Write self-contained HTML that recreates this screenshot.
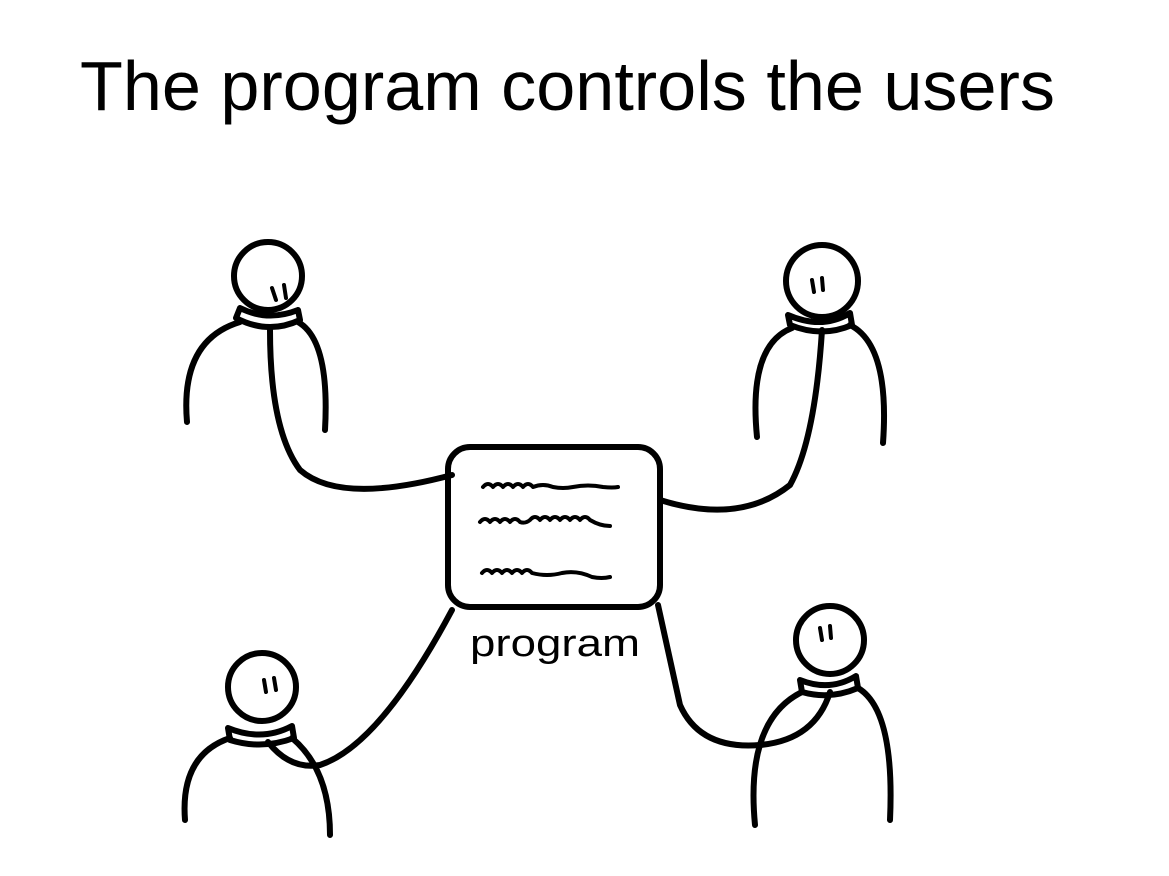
<!DOCTYPE html>
<html><head><meta charset="utf-8"><style>
html,body{margin:0;padding:0;background:#fff;}
svg{display:block;}
</style></head><body>
<svg width="1169" height="876" viewBox="0 0 1169 876" xmlns="http://www.w3.org/2000/svg">
<text x="80" y="110" font-family="Liberation Sans, sans-serif" font-size="70" textLength="975" lengthAdjust="spacingAndGlyphs" fill="#000">The program controls the users</text>
<g fill="none" stroke="#000" stroke-width="6" stroke-linecap="round" stroke-linejoin="round">
<circle cx="268" cy="276" r="34"/>
<path d="M236 318 Q268 335 300 320 L298 310 Q268 322 240 308 Z"/>
<path d="M187 422 Q180 340 240 322 M298 322 Q330 340 325 430"/>
<path d="M270 330 Q270 430 300 470 Q340 505 452 475"/>
<path d="M272 288 L276 300 M284 285 L286 298" stroke-width="4"/>
<circle cx="822" cy="281" r="36"/>
<path d="M788 315 Q822 330 850 313 L852 325 Q822 338 790 325 Z"/>
<path d="M757 437 Q748 345 792 328 M850 325 Q890 345 883 443"/>
<path d="M822 330 Q815 440 790 485 Q740 525 660 500"/>
<path d="M812 280 L814 292 M822 278 L823 290" stroke-width="4"/>
<rect x="448" y="447" width="212" height="160" rx="22"/>
<path d="M483 487 q5-6 10 0 q5-6 10 0 q5-6 10 0 q5-6 10 0 q5-6 10 0 q10-4 20 0 q10 2 20 0 q15-3 30 0 q10 1 15 0" stroke-width="4"/>
<path d="M480 522 q5-6 10 0 q5-6 10 0 q5-6 10 0 q5-6 10 0 q5 2 10 -2 q5-6 10 0 q5-6 10 0 q5-6 10 0 q5-6 10 0 q5-6 10 0 q5-6 10 0 q10 6 20 6" stroke-width="4"/>
<path d="M482 573 q5-6 10 0 q5-6 10 0 q5-6 10 0 q5-6 10 0 q5-6 10 0 q15 4 30 0 q15-3 30 4 q10 2 18 0" stroke-width="4"/>
<circle cx="262" cy="687" r="34"/>
<path d="M228 728 Q262 742 292 726 L294 738 Q262 750 230 740 Z"/>
<path d="M185 820 Q180 755 230 738 M292 738 Q330 770 330 835"/>
<path d="M268 742 Q290 770 320 765 Q380 745 452 610"/>
<path d="M264 680 L266 692 M274 678 L276 690" stroke-width="4"/>
<circle cx="830" cy="640" r="34"/>
<path d="M800 680 Q830 692 856 676 L858 688 Q830 700 802 692 Z"/>
<path d="M755 825 Q745 720 802 692 M858 688 Q895 710 890 820"/>
<path d="M658 605 Q670 660 680 705 Q700 750 760 745 Q815 740 830 692"/>
<path d="M820 628 L822 640 M830 626 L831 638" stroke-width="4"/>
</g>
<text x="470" y="656" font-family="Liberation Sans, sans-serif" font-size="38" textLength="170" lengthAdjust="spacingAndGlyphs" fill="#000">program</text>
</svg>
</body></html>
